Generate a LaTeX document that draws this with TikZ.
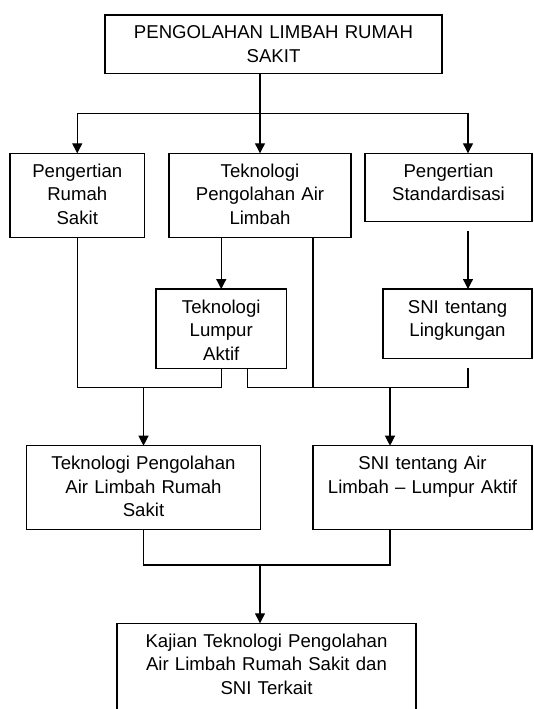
\documentclass[tikz,border=0pt]{standalone}
\usepackage{fontspec}
\setmainfont{Liberation Sans}
\usetikzlibrary{arrows.meta}

\tikzset{
  kotak/.style={draw, line width=1.2pt, inner sep=0pt, outer sep=0pt, anchor=north west,
    align=center, text height=24pt, font=\fontsize{18.6pt}{23.5pt}\selectfont},
  garis/.style={line width=1.2pt},
  panah/.style={garis, -{Triangle[width=10pt,length=10pt]}},
}

\begin{document}
\begin{tikzpicture}[x=1pt, y=-1pt]
  \useasboundingbox (0,0) rectangle (533,709);
  \clip (0,0) rectangle (533,709);
  % boxes, top left corners in px
  \node[kotak, text width=337pt, text depth=34.3pt] (judul) at (105,15) {PENGOLAHAN LIMBAH RUMAH\\SAKIT};
  \node[kotak, text width=134.5pt, text depth=60pt] (pengrs) at (10,153.3) {Pengertian\\Rumah\\Sakit};
  \node[kotak, text width=182pt, text depth=60pt] (teknpal) at (169,153.3) {Teknologi\\Pengolahan Air\\Limbah};
  \node[kotak, text width=167pt, text depth=44.4pt] (pengstd) at (365,153.3) {Pengertian\\Standardisasi};
  \node[kotak, text width=130.5pt, text depth=55.3pt] (lumpur) at (156,289) {Teknologi\\Lumpur\\Aktif};
  \node[kotak, text width=149pt, text depth=45.3pt] (snilingk) at (383,289) {SNI tentang\\Lingkungan};
  \node[kotak, text width=234pt, text depth=59.6pt] (tpalrs) at (26.5,445.7) {Teknologi Pengolahan\\Air Limbah Rumah\\Sakit};
  \node[kotak, text width=219pt, text depth=59.6pt] (sniair) at (313,445.7) {SNI tentang Air\\Limbah – Lumpur Aktif};
  \node[kotak, text width=299pt, text depth=80pt] (kajian) at (117,623.3) {Kajian Teknologi Pengolahan\\Air Limbah Rumah Sakit dan\\SNI Terkait};
  % junctions
  \coordinate (j0) at (260,113.3);
  \coordinate (k3) at (468,113.3);
  \coordinate (j1) at (143.5,387.3);
  \coordinate (j2) at (390,387.3);
  \coordinate (j4) at (260,565);
  % top branch
  \draw[garis] (judul.south -| j0) -- (j0);
  \draw[panah] (j0) -| (pengrs.north);
  \draw[panah] (j0) -- (teknpal.north);
  \draw[panah] (j0) -| (pengstd.north -| k3);
  % second level
  \draw[panah] (teknpal.south -| lumpur.north) -- (lumpur.north);
  \draw[panah] ([yshift=-9.3pt]pengstd.south -| k3) -- (snilingk.north -| k3);
  % merge left
  \draw[garis] (pengrs.south) |- (j1) -| (lumpur.south);
  \draw[panah] (j1) -- (tpalrs.north);
  % merge right
  \draw[garis] ([xshift=26.3pt]lumpur.south) |- (j2) -| ([yshift=-10pt]snilingk.south -| k3);
  \draw[garis] ([xshift=53pt]teknpal.south) -- ([xshift=53pt]teknpal.south |- j2);
  \draw[panah] (j2) -- (sniair.north -| j2);
  % merge bottom
  \draw[garis] (tpalrs.south) |- (j4) -| (sniair.south -| j2);
  \draw[panah] (j4) -- (kajian.north -| j4);
\end{tikzpicture}
\end{document}
